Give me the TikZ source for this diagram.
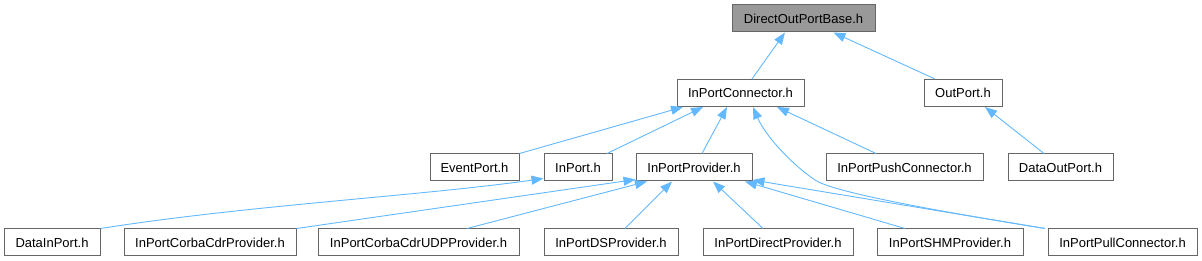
\documentclass[tikz,border=0pt]{standalone}
\usepackage{fontspec}
\setmainfont{Liberation Sans}
\usetikzlibrary{arrows.meta}
\definecolor{dxedge}{HTML}{63B8FF}
\definecolor{dxborder}{HTML}{666666}
\definecolor{dxroot}{HTML}{999999}
\tikzset{
  filebox/.style={draw=dxborder, line width=1pt, fill=white, minimum height=27pt, inner sep=0pt, font=\fontsize{13}{15}\selectfont},
  rootbox/.style={filebox, fill=dxroot},
  dep/.style={draw=dxedge, line width=0.9pt, -{Triangle[length=12pt,width=9pt]}}
}
\begin{document}
\begin{tikzpicture}[x=1pt, y=-1pt]
  \useasboundingbox (0,0) rectangle (1202,261);

  % Root
  \node[rootbox, minimum width=143pt] (dopb) at (803.5,18.5) {DirectOutPortBase.h};

  % Second row
  \node[filebox, minimum width=127pt] (ipc) at (740.5,93) {InPortConnector.h};
  \node[filebox, minimum width=78pt] (op) at (963,93) {OutPort.h};

  % Third row
  \node[filebox, minimum width=89pt] (evp) at (474.5,167.5) {EventPort.h};
  \node[filebox, minimum width=68pt] (ip) at (578,167.5) {InPort.h};
  \node[filebox, minimum width=116pt] (ipp) at (694,167.5) {InPortProvider.h};
  \node[filebox, minimum width=157pt] (push) at (904.5,167.5) {InPortPushConnector.h};
  \node[filebox, minimum width=105pt] (dop) at (1060.5,167.5) {DataOutPort.h};

  % Fourth row
  \node[filebox, minimum width=96pt] (dip) at (52,242.5) {DataInPort.h};
  \node[filebox, minimum width=172pt] (corba) at (210,242.5) {InPortCorbaCdrProvider.h};
  \node[filebox, minimum width=201pt] (udp) at (418.5,242.5) {InPortCorbaCdrUDPProvider.h};
  \node[filebox, minimum width=134pt] (ds) at (611,242.5) {InPortDSProvider.h};
  \node[filebox, minimum width=150pt] (direct) at (778,242.5) {InPortDirectProvider.h};
  \node[filebox, minimum width=146pt] (shm) at (950,242.5) {InPortSHMProvider.h};
  \node[filebox, minimum width=149pt] (pull) at (1122.5,242.5) {InPortPullConnector.h};

  % Edges to DirectOutPortBase.h
  \draw[dep] ([xshift=11.5pt]ipc.north) -- ([xshift=-18.5pt]dopb.south);
  \draw[dep] ([xshift=-28pt]op.north) -- ([xshift=30pt]dopb.south);

  % Edges to InPortConnector.h
  \draw[dep] (evp.north east) -- ([xshift=-57.5pt]ipc.south);
  \draw[dep] ([xshift=29pt]ip.north) -- ([xshift=-37.5pt]ipc.south);
  \draw[dep] ([xshift=8pt]ipp.north) -- ([xshift=-13.5pt]ipc.south);
  \draw[dep] ([xshift=-28.5pt]push.north) -- ([xshift=36.5pt]ipc.south);
  \draw[dep] ([xshift=-77.5pt]pull.north) .. controls (900,205) and (830,190) .. (815,180)
    .. controls (790,163) and (765,135) .. ([xshift=12.5pt]ipc.south);

  % Edge to OutPort.h
  \draw[dep] ([xshift=-16.5pt]dop.north) -- ([xshift=22pt]op.south);

  % Edge to InPort.h
  \draw[dep] (dip.north east) .. controls (250,205) and (420,196) .. ([yshift=3pt]ip.south west);

  % Edges to InPortProvider.h
  \draw[dep] (corba.north east) -- ([yshift=2pt]ipp.south west);
  \draw[dep] ([xshift=48.5pt]udp.north) -- ([xshift=-47pt]ipp.south);
  \draw[dep] ([xshift=14pt]ds.north) -- ([xshift=-22pt]ipp.south);
  \draw[dep] ([xshift=-15pt]direct.north) -- ([xshift=19pt]ipp.south);
  \draw[dep] ([xshift=-45pt]shm.north) -- ([xshift=51pt]ipp.south);
  \draw[dep] ([xshift=-77.5pt]pull.north) -- ([yshift=1.5pt]ipp.south east);
\end{tikzpicture}
\end{document}
